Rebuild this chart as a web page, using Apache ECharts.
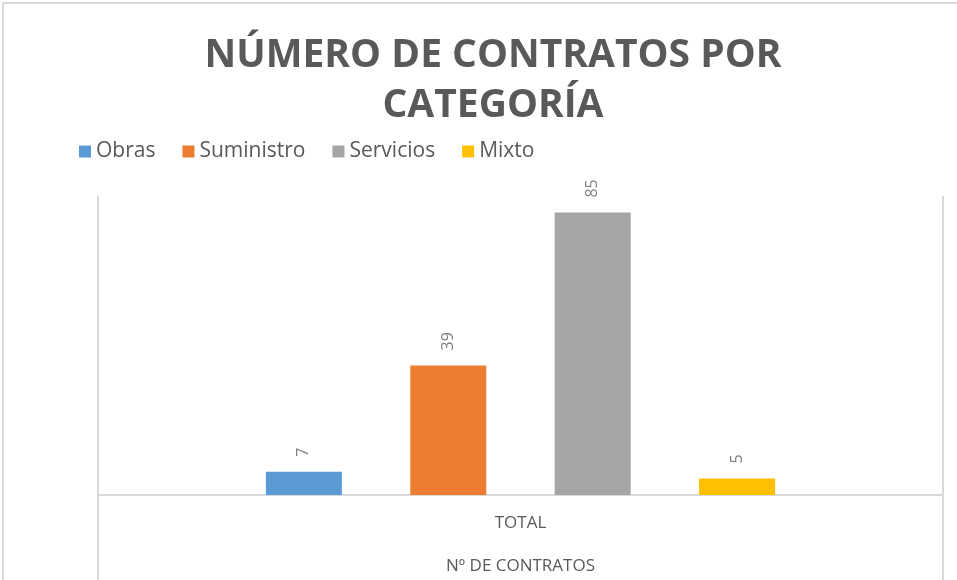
<!DOCTYPE html>
<html>
<head>
<meta charset="utf-8">
<title>Número de contratos por categoría</title>
<script src="https://cdn.jsdelivr.net/npm/echarts@6/dist/echarts.min.js"></script>
<style>
  html, body { margin: 0; padding: 0; background: #fff; }
  #main { width: 957px; height: 580px; }
</style>
</head>
<body>
<div id="main"></div>
<script>
// datos
const categories = ['TOTAL'];
const seriesNames = ['Obras', 'Suministro', 'Servicios', 'Mixto'];
const obras = [7];
const suministro = [39];
const servicios = [85];
const mixto = [5];
const colors = ['#5B9BD5', '#ED7D31', '#A5A5A5', '#FFC000'];

const values = [obras, suministro, servicios, mixto];

const myChart = echarts.init(document.getElementById('main'));

const option = {
  animation: false,
  textStyle: { fontFamily: 'Open Sans' },
  graphic: [{
    type: 'rect',
    shape: { x: 3, y: 3, width: 1000, height: 1000 },
    style: { fill: 'none', stroke: '#d9d9d9', lineWidth: 2 },
    silent: true
  }],
  title: {
    text: 'NÚMERO DE CONTRATOS POR\nCATEGORÍA',
    left: 488,
    textAlign: 'center',
    top: 26,
    textStyle: {
      fontFamily: 'Open Sans',
      fontWeight: 'bold',
      fontSize: 39,
      lineHeight: 50,
      color: '#595959'
    }
  },
  legend: {
    data: seriesNames,
    left: 74,
    top: 136,
    itemWidth: 12,
    itemHeight: 12,
    itemGap: 27,
    icon: 'rect',
    textStyle: { fontSize: 21, color: '#595959' }
  },
  grid: { left: 98, right: 14, top: 196, bottom: 85, outerBoundsMode: 'none' },
  xAxis: {
    type: 'category',
    data: categories,
    name: 'Nº DE CONTRATOS',
    nameLocation: 'middle',
    nameGap: 63,
    nameTextStyle: { fontSize: 17, color: '#595959' },
    axisLine: { lineStyle: { color: '#d9d9d9', width: 2 } },
    axisTick: { show: true, length: 85, lineStyle: { color: '#d9d9d9', width: 2 } },
    axisLabel: { fontSize: 17, color: '#595959', margin: 20 },
    splitLine: { show: true, lineStyle: { color: '#d9d9d9', width: 2 } }
  },
  yAxis: {
    type: 'value',
    min: 0,
    max: 90,
    show: false
  },
  series: seriesNames.map((name, i) => ({
    name: name,
    type: 'bar',
    data: values[i],
    barWidth: 76,
    barGap: '90%',
    itemStyle: { color: colors[i] },
    label: {
      show: true,
      position: 'top',
      rotate: 90,
      align: 'left',
      verticalAlign: 'middle',
      distance: 15,
      fontSize: 16,
      color: '#7f7f7f'
    }
  }))
};

myChart.setOption(option);
</script>
</body>
</html>
